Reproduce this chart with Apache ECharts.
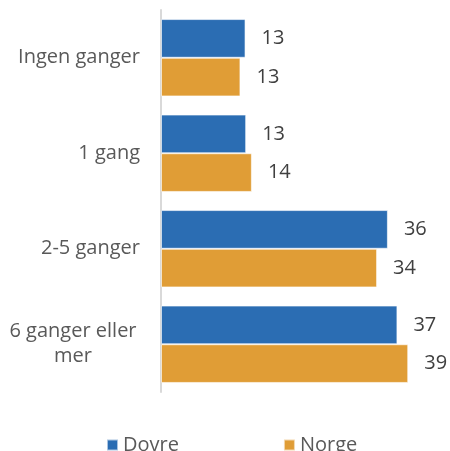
<!DOCTYPE html>
<html lang="no">
<head>
    <meta charset="UTF-8">
    <title>Dovre / Norge</title>
    <style>
        * { box-sizing: border-box; margin: 0; padding: 0; }
        body { background: #fff; }
        #chart { width: 450px; height: 451px; }
    </style>
    <script src="https://cdn.jsdelivr.net/npm/echarts@6.0.0/dist/echarts.min.js"></script>
</head>
<body>
    <div id="chart"></div>
    <script>
        // data (labels are rounded)
        const categories = ['Ingen ganger', '1 gang', '2-5 ganger', '6 ganger eller mer'];
        const dovre = [13.3, 13.4, 35.7, 37.2];
        const norge = [12.5, 14.3, 34.0, 38.9];

        const FONT = '"Open Sans", sans-serif';
        const FS = 20;

        function catLabel(v) {
            // wrap long label like Excel does, centred lines
            if (v === '6 ganger eller mer') {
                return '{c|6 ganger eller}\n{c|mer}';
            }
            return v;
        }

        const chart = echarts.init(document.getElementById('chart'));
        chart.setOption({
            animation: false,
            grid: { left: 161, right: 3, top: 10, bottom: 59 },
            legend: {
                top: 435,
                left: 106,
                padding: 0,
                itemWidth: 11,
                itemHeight: 11,
                itemGap: 104,
                icon: 'rect',
                textStyle: { fontFamily: FONT, fontSize: FS, color: '#595959' },
                data: ['Dovre', 'Norge']
            },
            xAxis: {
                type: 'value',
                min: 0,
                max: 45,
                show: false
            },
            yAxis: {
                type: 'category',
                inverse: true,
                data: categories,
                axisLine: { lineStyle: { color: '#d9d9d9', width: 2 } },
                axisTick: { show: false },
                axisLabel: {
                    margin: 21,
                    fontFamily: FONT,
                    fontSize: FS,
                    color: '#595959',
                    lineHeight: 25,
                    formatter: catLabel,
                    rich: {
                        c: { width: 134, align: 'center', fontFamily: FONT, fontSize: FS, color: '#595959', lineHeight: 25 }
                    }
                }
            },
            series: [
                {
                    name: 'Dovre',
                    type: 'bar',
                    data: dovre,
                    barGap: '0%',
                    barCategoryGap: '19%',
                    itemStyle: { color: '#2b6db3', borderColor: 'rgba(255,255,255,0.6)', borderWidth: 1 },
                    label: {
                        show: true,
                        position: 'right',
                        distance: 16,
                        fontFamily: FONT,
                        fontSize: FS,
                        color: '#404040',
                        formatter: p => Math.round(p.value)
                    }
                },
                {
                    name: 'Norge',
                    type: 'bar',
                    data: norge,
                    itemStyle: { color: '#e09d36', borderColor: 'rgba(255,255,255,0.6)', borderWidth: 1 },
                    label: {
                        show: true,
                        position: 'right',
                        distance: 16,
                        fontFamily: FONT,
                        fontSize: FS,
                        color: '#404040',
                        formatter: p => Math.round(p.value)
                    }
                }
            ]
        });
    </script>
</body>
</html>
